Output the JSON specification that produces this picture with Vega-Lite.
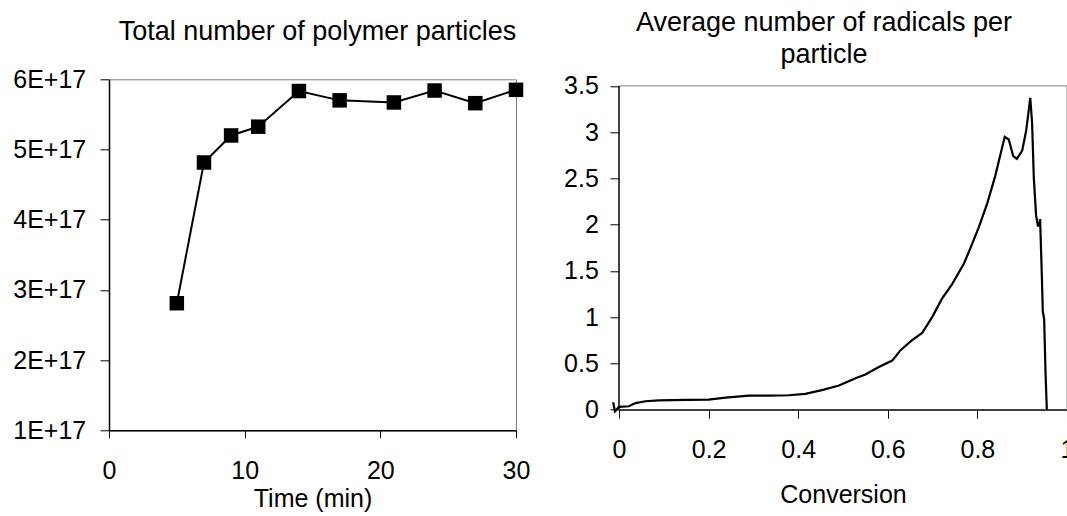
{
  "$schema": "https://vega.github.io/schema/vega-lite/v6.json",
  "background": "white",
  "padding": {"left": 12, "top": 8.3, "right": 0, "bottom": 0},
  "config": {
    "font": "Liberation Sans",
    "view": {"stroke": "#808080", "strokeWidth": 1},
    "axis": {
      "domainColor": "#000000",
      "domainWidth": 1.5,
      "tickColor": "#000000",
      "tickWidth": 1,
      "labelFontSize": 25,
      "labelColor": "#000000",
      "labelFont": "Liberation Sans",
      "titleFont": "Liberation Sans",
      "titleFontSize": 25,
      "titleFontWeight": "normal",
      "titleColor": "#000000",
      "grid": false,
      "labelFlush": false,
      "labelOverlap": false
    },
    "title": {"fontSize": 27, "fontWeight": "normal", "color": "#000000", "anchor": "middle", "frame": "group", "font": "Liberation Sans"},
    "concat": {"spacing": 32}
  },
  "hconcat": [
    {
      "width": 407,
      "height": 351,
      "title": {"text": "Total number of polymer particles", "offset": 21.7, "dx": 5},
      "data": {"values": [
        {"time": 5, "particles": 2.81e17},
        {"time": 7, "particles": 4.815e17},
        {"time": 9, "particles": 5.2e17},
        {"time": 11, "particles": 5.325e17},
        {"time": 14, "particles": 5.833e17},
        {"time": 17, "particles": 5.70e17},
        {"time": 21, "particles": 5.67e17},
        {"time": 24, "particles": 5.84e17},
        {"time": 27, "particles": 5.66e17},
        {"time": 30, "particles": 5.85e17}
      ]},
      "encoding": {
        "x": {"field": "time", "type": "quantitative",
          "scale": {"domain": [0, 30], "nice": false, "zero": false},
          "axis": {"values": [0, 10, 20, 30], "title": "Time (min)", "tickSize": 7.6, "labelPadding": 20.2, "titlePadding": 3.3}},
        "y": {"field": "particles", "type": "quantitative",
          "scale": {"domain": [1e17, 6e17], "nice": false, "zero": false},
          "axis": {"values": [1e17, 2e17, 3e17, 4e17, 5e17, 6e17], "labelExpr": "format(datum.value/1e17,'d') + 'E+17'", "title": null, "tickSize": 9, "labelPadding": 14.3}}
      },
      "layer": [
        {"mark": {"type": "line", "color": "#000000", "strokeWidth": 2}},
        {"mark": {"type": "point", "shape": "square", "filled": true, "size": 210, "color": "#000000", "opacity": 1}}
      ]
    },
    {
      "width": 448,
      "height": 330.3,
      "view": {"stroke": null},
      "title": {"text": ["Average number of radicals per", "particle"], "lineHeight": 33, "offset": 4.4, "dx": -19},
      "encoding": {
        "x": {"field": "conversion", "type": "quantitative",
          "scale": {"domain": [0, 1], "nice": false, "zero": false},
          "axis": {"values": [0, 0.2, 0.4, 0.6, 0.8, 1], "labelExpr": "'' + datum.value", "title": "Conversion", "tickSize": 8.5, "labelPadding": 19.5, "titlePadding": 19.9}},
        "y": {"field": "radicals", "type": "quantitative",
          "scale": {"domain": [0, 3.5714], "nice": false, "zero": false},
          "axis": {"values": [0, 0.5, 1, 1.5, 2, 2.5, 3, 3.5], "labelExpr": "'' + datum.value", "title": null, "tickSize": 9, "labelPadding": 11.7, "domain": false}}
      },
      "layer": [
        {
          "data": {"values": [
            {"conversion": 0, "conversion2": 1, "radicals": 3.5, "radicals2": 3.5},
            {"conversion": 1, "conversion2": 1, "radicals": 0, "radicals2": 3.5}
          ]},
          "mark": {"type": "rule", "color": "#808080", "strokeWidth": 1},
          "encoding": {"x2": {"field": "conversion2"}, "y2": {"field": "radicals2"}}
        },
        {
          "data": {"values": [
            {"conversion": 0, "conversion2": 0, "radicals": 0, "radicals2": 3.5}
          ]},
          "mark": {"type": "rule", "color": "#000000", "strokeWidth": 1.5},
          "encoding": {"x2": {"field": "conversion2"}, "y2": {"field": "radicals2"}}
        },
        {
          "data": {"values": [
            {"conversion": -0.013, "radicals": 0.08},
            {"conversion": -0.009, "radicals": -0.02},
            {"conversion": 0.0, "radicals": 0.03},
            {"conversion": 0.022, "radicals": 0.036},
            {"conversion": 0.037, "radicals": 0.07},
            {"conversion": 0.059, "radicals": 0.09},
            {"conversion": 0.089, "radicals": 0.10},
            {"conversion": 0.15, "radicals": 0.105},
            {"conversion": 0.2, "radicals": 0.108},
            {"conversion": 0.238, "radicals": 0.13},
            {"conversion": 0.29, "radicals": 0.15},
            {"conversion": 0.335, "radicals": 0.15},
            {"conversion": 0.379, "radicals": 0.155},
            {"conversion": 0.416, "radicals": 0.17},
            {"conversion": 0.453, "radicals": 0.21},
            {"conversion": 0.491, "radicals": 0.26},
            {"conversion": 0.528, "radicals": 0.34},
            {"conversion": 0.55, "radicals": 0.38},
            {"conversion": 0.58, "radicals": 0.46},
            {"conversion": 0.61, "radicals": 0.53},
            {"conversion": 0.628, "radicals": 0.64},
            {"conversion": 0.654, "radicals": 0.75},
            {"conversion": 0.677, "radicals": 0.83},
            {"conversion": 0.699, "radicals": 1.0},
            {"conversion": 0.721, "radicals": 1.2},
            {"conversion": 0.744, "radicals": 1.36},
            {"conversion": 0.770, "radicals": 1.58},
            {"conversion": 0.784, "radicals": 1.74},
            {"conversion": 0.803, "radicals": 1.97},
            {"conversion": 0.822, "radicals": 2.23},
            {"conversion": 0.840, "radicals": 2.53},
            {"conversion": 0.861, "radicals": 2.95},
            {"conversion": 0.870, "radicals": 2.92},
            {"conversion": 0.880, "radicals": 2.74},
            {"conversion": 0.888, "radicals": 2.71},
            {"conversion": 0.900, "radicals": 2.80},
            {"conversion": 0.909, "radicals": 3.02},
            {"conversion": 0.918, "radicals": 3.37},
            {"conversion": 0.922, "radicals": 3.11},
            {"conversion": 0.926, "radicals": 2.50},
            {"conversion": 0.931, "radicals": 2.10},
            {"conversion": 0.935, "radicals": 1.99},
            {"conversion": 0.938, "radicals": 1.99},
            {"conversion": 0.940, "radicals": 2.06},
            {"conversion": 0.944, "radicals": 1.42},
            {"conversion": 0.946, "radicals": 1.06},
            {"conversion": 0.949, "radicals": 0.98},
            {"conversion": 0.952, "radicals": 0.41},
            {"conversion": 0.955, "radicals": 0.0}
          ]},
          "mark": {"type": "line", "color": "#000000", "strokeWidth": 2.2, "clip": false}
        }
      ]
    }
  ]
}
